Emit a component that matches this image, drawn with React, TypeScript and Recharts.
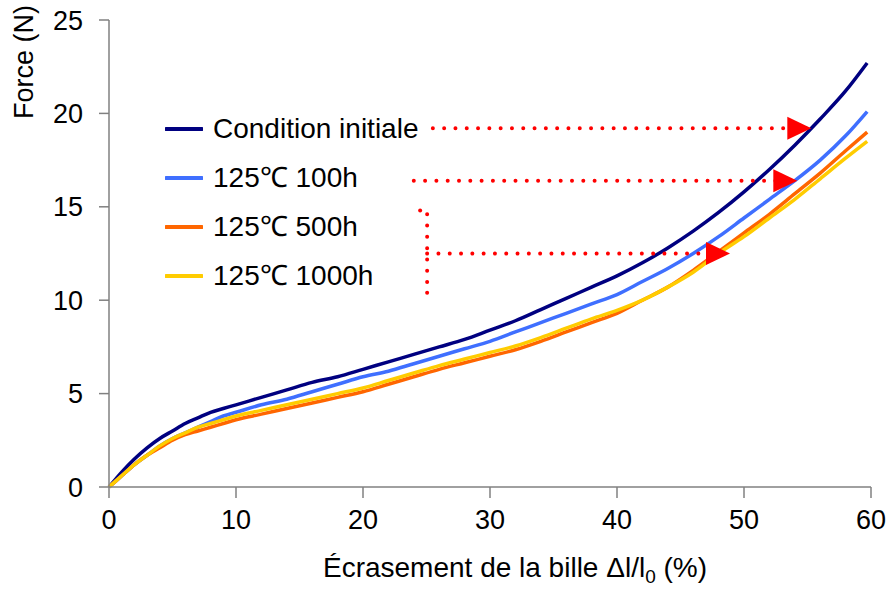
import React from 'react';
import { LineChart, Line, XAxis, YAxis, ReferenceLine, ReferenceDot } from 'recharts';

const xValues = [0, 1, 2, 3, 4, 5, 6, 7, 8, 9, 10, 12, 14, 16, 18, 20, 22, 24, 26, 28, 30, 32, 34, 36, 38, 40, 42, 44, 46, 48, 50, 52, 54, 56, 58, 59.7];
const initiale = [0, 0.8, 1.5, 2.1, 2.6, 3.0, 3.4, 3.7, 4.0, 4.2, 4.4, 4.8, 5.2, 5.6, 5.9, 6.3, 6.7, 7.1, 7.5, 7.9, 8.4, 8.9, 9.5, 10.1, 10.7, 11.3, 12.0, 12.8, 13.7, 14.7, 15.8, 17.0, 18.3, 19.7, 21.2, 22.7];
const h100 = [0, 0.6, 1.2, 1.7, 2.2, 2.6, 2.9, 3.2, 3.5, 3.8, 4.0, 4.4, 4.7, 5.1, 5.5, 5.9, 6.2, 6.6, 7.0, 7.4, 7.8, 8.3, 8.8, 9.3, 9.8, 10.3, 11.0, 11.7, 12.5, 13.4, 14.4, 15.4, 16.4, 17.5, 18.8, 20.1];
const h500 = [0, 0.6, 1.2, 1.7, 2.1, 2.5, 2.8, 3.0, 3.2, 3.4, 3.6, 3.9, 4.2, 4.5, 4.8, 5.1, 5.5, 5.9, 6.3, 6.65, 7.0, 7.35, 7.8, 8.3, 8.8, 9.3, 10.0, 10.7, 11.6, 12.6, 13.6, 14.6, 15.7, 16.8, 18.0, 19.0];
const h1000 = [0, 0.6, 1.2, 1.7, 2.2, 2.6, 2.9, 3.2, 3.4, 3.6, 3.8, 4.1, 4.4, 4.7, 5.0, 5.3, 5.7, 6.1, 6.5, 6.85, 7.2, 7.55, 8.0, 8.5, 9.0, 9.45, 10.0, 10.7, 11.5, 12.5, 13.4, 14.4, 15.4, 16.5, 17.6, 18.5];

const seriesNames = ['Condition initiale', '125\u2103 100h', '125\u2103 500h', '125\u2103 1000h'];
const seriesKeys = ['initiale', 'h100', 'h500', 'h1000'];
const seriesColors = ['#000080', '#3F6FFF', '#FF6600', '#FFCC00'];

const xTicks = [0, 10, 20, 30, 40, 50, 60];
const yTicks = [0, 5, 10, 15, 20, 25];

// annotation arrows (data coordinates)
const arrowY = [19.2, 16.4, 12.5];
const arrowStartX = [25.5, 24.0, 25.05];
const arrowTipX = [55.3, 54.2, 48.9];
// bracket polyline
const bracketX = [24.5, 25.05, 25.05, 24.5];
const bracketY = [14.8, 14.6, 10.4, 10.1];

const data = xValues.map((x, i) => ({
  x,
  initiale: initiale[i],
  h100: h100[i],
  h500: h500[i],
  h1000: h1000[i],
}));

const FONT = '"Liberation Sans", Arial, sans-serif';
const dotted = { stroke: '#FF0000', strokeWidth: 4, strokeDasharray: '0 11.3', strokeLinecap: 'round' as const };

const XLabel = (props: any) => {
  const vb = props.viewBox || { x: 0, y: 0, width: 0, height: 0 };
  const cx = vb.x + vb.width / 2 + 25;
  const y = vb.y + 90;
  return (
    <text x={cx} y={y} textAnchor="middle" fontSize={28} fill="#000" fontFamily={FONT}>
      {'\u00C9crasement de la bille \u0394l/l'}
      <tspan fontSize={19} dy={6}>0</tspan>
      <tspan dy={-6}>{' (%)'}</tspan>
    </text>
  );
};

const YLabel = (props: any) => {
  const vb = props.viewBox || { x: 0, y: 0, width: 0, height: 0 };
  const cx = vb.x - 25;
  const cy = vb.y + 42;
  return (
    <text x={cx} y={cy} transform={`rotate(-90, ${cx}, ${cy})`} textAnchor="middle" dominantBaseline="central" fontSize={27} fill="#000" fontFamily={FONT}>
      Force (N)
    </text>
  );
};

const Triangle = (props: any) => {
  const { cx, cy } = props;
  if (cx == null || cy == null) return null;
  return <polygon points={`${cx - 24},${cy - 11.5} ${cx},${cy} ${cx - 24},${cy + 11.5}`} fill="#FF0000" />;
};

export default function App() {
  return (
    <div style={{ position: 'absolute', left: 0, top: 0, width: 889, height: 592, background: '#fff', fontFamily: FONT }}>
      <LineChart width={889} height={592} data={data} margin={{ top: 20, right: 18, left: 49, bottom: 0 }}>
        <XAxis
          dataKey="x"
          type="number"
          domain={[0, 60]}
          ticks={xTicks}
          height={105}
          tickSize={11}
          tickMargin={12}
          stroke="#808080"
          strokeWidth={1.5}
          tick={{ fontSize: 27, fill: '#000', fontFamily: FONT }}
          label={{ content: XLabel }}
        />
        <YAxis
          type="number"
          domain={[0, 25]}
          ticks={yTicks}
          width={60}
          tickSize={10}
          tickMargin={16}
          stroke="#808080"
          strokeWidth={1.5}
          tick={{ fontSize: 27, fill: '#000', fontFamily: FONT }}
          label={{ content: YLabel }}
        />
        {seriesKeys.map((k, i) => (
          <Line
            key={k}
            dataKey={k}
            name={seriesNames[i]}
            stroke={seriesColors[i]}
            strokeWidth={3.5}
            dot={false}
            activeDot={false}
            type="monotone"
            isAnimationActive={false}
          />
        ))}
        {arrowY.map((y, i) => (
          <ReferenceLine
            key={'a' + i}
            segment={[{ x: arrowStartX[i], y }, { x: arrowTipX[i], y }]}
            {...dotted}
          />
        ))}
        {bracketX.slice(0, -1).map((x, i) => (
          <ReferenceLine
            key={'b' + i}
            segment={[{ x, y: bracketY[i] }, { x: bracketX[i + 1], y: bracketY[i + 1] }]}
            {...dotted}
          />
        ))}
        {arrowY.map((y, i) => (
          <ReferenceDot key={'t' + i} x={arrowTipX[i]} y={y} r={0} shape={Triangle} />
        ))}
      </LineChart>
      <div style={{ position: 'absolute', left: 165, top: 104.5 }}>
        {seriesNames.map((name, i) => (
          <div key={i} style={{ display: 'flex', alignItems: 'center', height: 49 }}>
            <svg width={38} height={6} style={{ display: 'block' }}>
              <line x1={1} y1={3} x2={37} y2={3} stroke={seriesColors[i]} strokeWidth={4} strokeLinecap="round" />
            </svg>
            <span style={{ marginLeft: 10, fontSize: 28, color: '#000', lineHeight: '30px', whiteSpace: 'nowrap' }}>{name}</span>
          </div>
        ))}
      </div>
    </div>
  );
}
